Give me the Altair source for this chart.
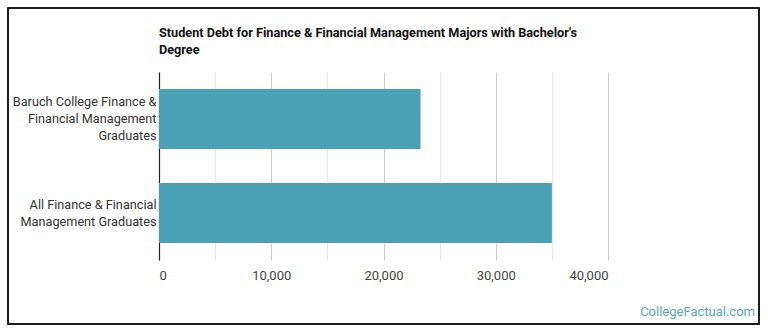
import altair as alt
import pandas as pd

categories = ["Baruch College Finance &|Financial Management|Graduates",
              "All Finance & Financial|Management Graduates"]
values = [23300, 35000]
tick_values = [0, 5000, 10000, 15000, 20000, 25000, 30000, 35000, 40000]
title_lines = ["Student Debt for Finance & Financial Management Majors with Bachelor's", "Degree"]
watermark = "CollegeFactual.com"

df = pd.DataFrame({"cat": categories, "val": values})

W, H = 449, 188

bars = alt.Chart(df).mark_bar(color="#4aa0b5").encode(
    x=alt.X("val:Q", scale=alt.Scale(domain=[0, 40000], nice=False),
            axis=alt.Axis(values=tick_values, title=None, domain=False, ticks=False,
                          labelExpr="datum.value % 10000 === 0 ? format(datum.value, ',') : ''",
                          labelFont="Roboto", labelFontSize=13, labelColor="#444",
                          labelPadding=9,
                          gridColor={"condition": {"test": "datum.value % 10000 === 0", "value": "#cccccc"},
                                     "value": "#e8e8e8"})),
    y=alt.Y("cat:N", sort=categories,
            scale=alt.Scale(paddingInner=0.362, paddingOuter=0.18),
            axis=alt.Axis(title=None, ticks=False, domainColor="#222", domainWidth=1.2,
                          labelExpr="split(datum.label, '|')", labelFont="Roboto",
                          labelFontSize=12.7, labelColor="#333", labelLineHeight=17,
                          labelOffset={"condition": {"test": "length(split(datum.value, '|')) === 3", "value": -17},
                                       "value": -8.5},
                          labelPadding=3, labelLimit=200))
)

border = alt.Chart(df).mark_rect(fill=None, stroke="#111", strokeWidth=1.5, clip=False).encode(
    x=alt.value(-151), x2=alt.value(600), y=alt.value(-64), y2=alt.value(252)
)

wm = alt.Chart(pd.DataFrame({"t": [watermark]})).mark_text(
    align="right", baseline="middle", font="Roboto", fontSize=13, color="#5aa9ba"
).encode(x=alt.value(596), y=alt.value(240), text="t:N")

title = alt.Chart(pd.DataFrame({"t": [title_lines[0]]})).mark_text(
    align="left", baseline="middle", font="Roboto", fontSize=12.7, fontWeight="bold", color="#111"
).encode(x=alt.value(0), y=alt.value(-39), text="t:N")

title2 = alt.Chart(pd.DataFrame({"t2": [title_lines[1]]})).mark_text(
    align="left", baseline="middle", font="Roboto", fontSize=12.7, fontWeight="bold", color="#111"
).encode(x=alt.value(0), y=alt.value(-22), text="t2:N")

chart = alt.layer(bars, wm, title, title2, border).properties(
    width=W, height=H,
    autosize=alt.AutoSizeParams(type="none"),
    padding={"left": 159, "top": 72, "right": 162, "bottom": 75},
    background="white"
).configure_view(stroke=None)

chart.save("out.html", embed_options={"renderer": "svg", "actions": False})
